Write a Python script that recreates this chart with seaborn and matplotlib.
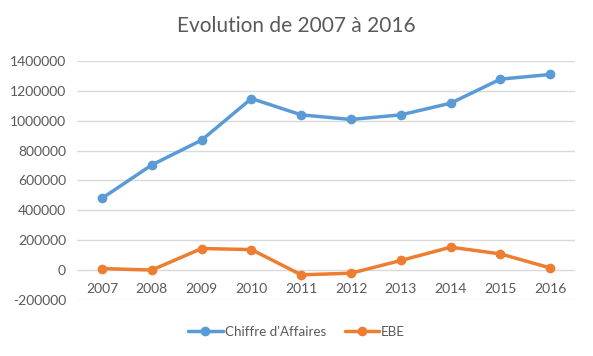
import numpy as np
import pandas as pd
import matplotlib
matplotlib.use("Agg")
import matplotlib.pyplot as plt
import seaborn as sns

# données
annees = ["2007", "2008", "2009", "2010", "2011", "2012", "2013", "2014", "2015", "2016"]
chiffre_affaires = [481000, 704000, 870000, 1148000, 1039000, 1008000, 1039000, 1117000, 1278000, 1309000]
ebe = [11000, 1000, 145000, 138000, -31000, -20000, 65000, 154000, 109000, 15000]

df = pd.DataFrame({
    "annee": annees * 2,
    "valeur": chiffre_affaires + ebe,
    "serie": ["Chiffre d'Affaires"] * len(annees) + ["EBE"] * len(annees),
})

sns.set_style("white")
plt.rcParams["font.family"] = ["Lato", "DejaVu Sans"]

fig = plt.figure(figsize=(5.93, 3.56), dpi=100)
ax = fig.add_axes([0.130, 0.157, 0.840, 0.672])

sns.lineplot(data=df, x="annee", y="valeur", hue="serie",
             palette=["#5B9BD5", "#ED7D31"], marker="o", markersize=7,
             markeredgewidth=0, linewidth=2.5, ax=ax, sort=False)

ax.set_xlim(-0.5, len(annees) - 0.5)
ax.set_ylim(-200000, 1400000)
ax.set_yticks(np.arange(-200000, 1400001, 200000))
ax.set_yticklabels([str(v) for v in range(-200000, 1400001, 200000)])
ax.grid(axis="y", color="#D9D9D9", linewidth=1)
ax.set_axisbelow(True)
for s in ax.spines.values():
    s.set_visible(False)
ax.tick_params(axis="both", length=0, labelsize=10, colors="#595959", pad=8)
ax.set_xlabel("")
ax.set_ylabel("")

# étiquettes des années sous la ligne du zéro
ax.set_xticks(range(len(annees)))
ax.set_xticklabels([])
for i, a in enumerate(annees):
    ax.text(i, -125000, a, ha="center", va="center", fontsize=10, color="#595959")

fig.suptitle("Evolution de 2007 à 2016", x=0.5, y=0.955, fontsize=15, color="#595959")

ax.legend(loc="center", bbox_to_anchor=(0.5, 0.067), bbox_transform=fig.transFigure,
          ncol=2, frameon=False, fontsize=9.6, labelcolor="#595959",
          handlelength=2.6, columnspacing=1.4, handletextpad=0.15)

fig.savefig("out.png", dpi=100)
